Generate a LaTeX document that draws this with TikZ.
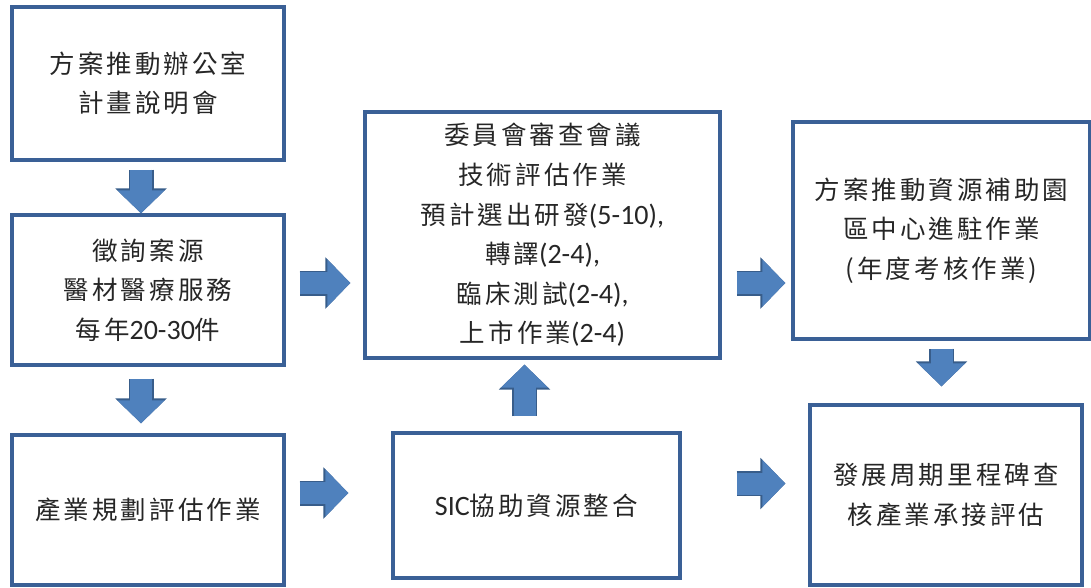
\documentclass[tikz,border=0pt]{standalone}
\usepackage{fontspec}
\newfontfamily\cjk[LetterSpace=12]{Noto Sans CJK TC}
\newfontfamily\lat[Scale=1.1]{Carlito}
\usetikzlibrary{arrows.meta}
\definecolor{boxblue}{RGB}{58,96,150}
\definecolor{arrfill}{RGB}{79,129,189}
\definecolor{arrline}{RGB}{56,93,138}

\begin{document}
\begin{tikzpicture}[
    box/.style={rectangle,draw=boxblue,line width=1.9pt,align=center,text=black!85,
      font=\cjk\fontsize{14.5pt}{22.5pt}\selectfont},
    fatarrow/.style={draw=arrfill,line width=0.44cm,-{Triangle[width=0.92cm,length=0.46cm]},
      preaction={draw=arrline,line width=0.5cm,-{Triangle[width=1.0cm,length=0.5cm]}}}
  ]
    \useasboundingbox (0,0) rectangle (21.82,11.74);
    % left column
    \node[box,minimum width=5.44cm,minimum height=3.06cm] (office) at (2.96,10.07) {方案推動辦公室\\計畫說明會};
    \node[box,minimum width=5.44cm,minimum height=3cm] (source) at (2.96,5.94) {徵詢案源\\醫材醫療服務\\每年{\lat 20-30}件};
    \node[box,minimum width=5.44cm,minimum height=3cm] (plan) at (2.96,1.54) {產業規劃評估作業};
    % middle column
    \node[box,minimum width=7.1cm,minimum height=4.92cm] (review) at (10.85,7.04) {委員會審查會議\\技術評估作業\\預計選出研發{\lat(5-10),}\\轉譯{\lat(2-4),}\\臨床測試{\lat(2-4),}\\上市作業{\lat(2-4)}};
    \node[box,minimum width=5.74cm,minimum height=2.9cm] (sic) at (10.73,1.63) {{\lat SIC}協助資源整合};
    % right column
    \node[box,minimum width=5.94cm,minimum height=4.34cm] (park) at (18.83,7.13) {方案推動資源補助園\\區中心進駐作業\\(年度考核作業)};
    \node[box,minimum width=5.44cm,minimum height=3.6cm] (milestone) at (18.92,1.84) {發展周期里程碑查\\核產業承接評估};
    % block arrows
    \coordinate (row) at ([yshift=1.4mm]source.east);
    \draw[fatarrow,shorten <=0.16cm] ([xshift=-1.4mm]office.south) -- ([xshift=-1.4mm]source.north);
    \draw[fatarrow,shorten <=0.24cm,shorten >=0.2cm] ([xshift=-1.4mm]source.south) -- ([xshift=-1.4mm]plan.north);
    \draw[fatarrow,shorten <=0.28cm,shorten >=0.26cm] (row) -- (row -| review.west);
    \draw[fatarrow,shorten <=0.3cm,shorten >=0.12cm] (review.east |- row) -- (park.west |- row);
    \draw[fatarrow,shorten <=0.28cm,shorten >=0.86cm] ([yshift=3.4mm]plan.east) -- ([yshift=3.4mm]plan.east -| sic.west);
    \draw[fatarrow,shorten <=1.1cm,shorten >=0.46cm] ([yshift=4.4mm]sic.east) -- ([yshift=4.4mm]sic.east -| milestone.west);
    \draw[fatarrow,shorten <=0.3cm,shorten >=0.1cm] ([xshift=-2.4mm]sic.north) -- ([xshift=-2.4mm]sic.north |- review.south);
    \draw[fatarrow,shorten <=0.16cm,shorten >=0.34cm] (park.south) -- (park.south |- milestone.north);
\end{tikzpicture}
\end{document}
